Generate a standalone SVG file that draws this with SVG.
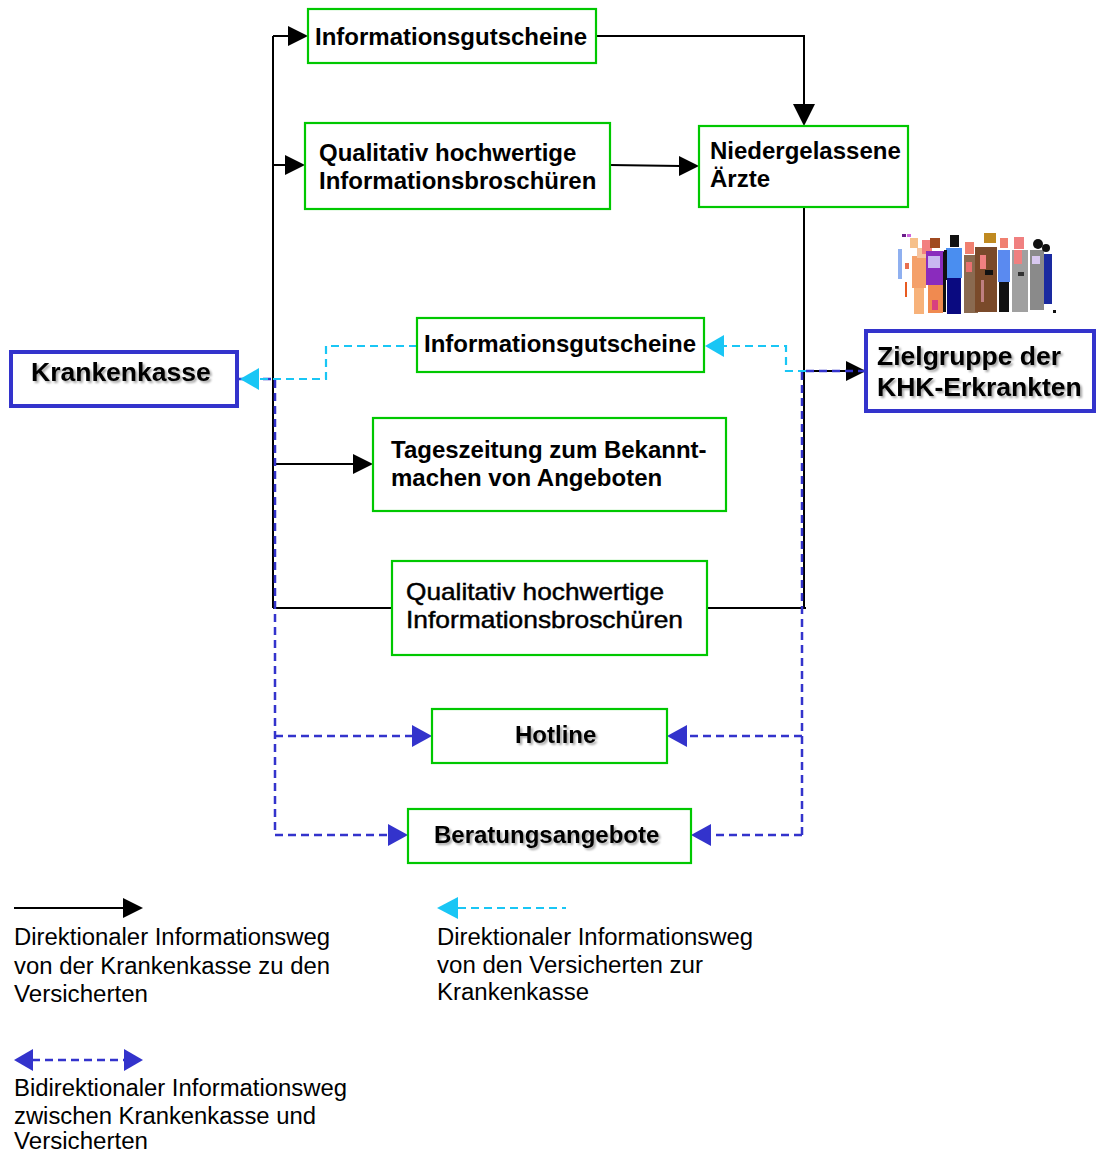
<svg xmlns="http://www.w3.org/2000/svg" width="1096" height="1155" viewBox="0 0 1096 1155">
  <style>
    .box { fill: #ffffff; stroke: #00c800; stroke-width: 2.2; }
    .main { fill: #ffffff; stroke: #3333cc; stroke-width: 4; }
    .t { font-family: "Liberation Sans", Arial, sans-serif; font-size: 24px; font-weight: bold; fill: #000; }
    .tl { font-family: "Liberation Sans", Arial, sans-serif; font-size: 24px; fill: #000; stroke: #000; stroke-width: 0.45; }
    .big { font-family: "Liberation Sans", Arial, sans-serif; font-size: 26.5px; font-weight: bold; fill: #000; }
    .leg { font-family: "Liberation Sans", Arial, sans-serif; font-size: 23px; fill: #000; }
    .solid { fill: none; stroke: #000; stroke-width: 2; }
    .blue { fill: none; stroke: #3333cc; stroke-width: 2.5; stroke-dasharray: 8 5; }
    .cyan { fill: none; stroke: #19c6f5; stroke-width: 2.2; stroke-dasharray: 8 5; }
    .hb { fill: #000; }
    .hbl { fill: #3333cc; }
    .hc { fill: #19c6f5; }
  </style>
  <defs>
    <filter id="shadow" x="-10%" y="-30%" width="130%" height="170%">
      <feGaussianBlur in="SourceAlpha" stdDeviation="1"/>
      <feOffset dx="1.5" dy="1.5" result="b"/>
      <feComponentTransfer><feFuncA type="linear" slope="0.35"/></feComponentTransfer>
      <feMerge><feMergeNode/><feMergeNode in="SourceGraphic"/></feMerge>
    </filter>
  </defs>

  <rect width="1096" height="1155" fill="#ffffff"/>

  <!-- connectors -->
  <g id="connectors">
    <!-- solid paths from the Krankenkasse -->
    <path class="solid" d="M273,36 V608 M273,36 H290 M273,165 H287 M273,464 H355 M273,608 H392 M707,608 H806"/>
    <path class="solid" d="M596,36 H804 V107 M610,165 L681,166 M804,207 V608 M806,371 H848"/>
    <polygon class="hb" points="308,36 288,26 288,46"/>
    <polygon class="hb" points="305,165 285,155 285,175"/>
    <polygon class="hb" points="373,464 353,454 353,474"/>
    <polygon class="hb" points="804,126 793,104 815,104"/>
    <polygon class="hb" points="699,166 679,156 679,176"/>
    <polygon class="hb" points="866,371 846,361 846,381"/>

    <!-- bidirectional dashed paths -->
    <path class="blue" d="M237,379 H275 V835 M275,736 H414 M275,835 H390"/>
    <path class="blue" d="M866,371 H802 V835 M802,736 H685 M802,835 H709"/>
    <polygon class="hbl" points="432,736 412,725 412,747"/>
    <polygon class="hbl" points="408,835 388,824 388,846"/>
    <polygon class="hbl" points="667,736 687,725 687,747"/>
    <polygon class="hbl" points="691,835 711,824 711,846"/>

    <!-- dashed return paths to the Krankenkasse -->
    <path class="cyan" d="M417,346 H326 V379 H258"/>
    <path class="cyan" d="M806,371 H786 V346 H723"/>
    <polygon class="hc" points="240,379 259,368 259,390"/>
    <polygon class="hc" points="705,346 724,335 724,357"/>
  </g>

  <!-- nodes -->
  <g id="krankenkasse">
    <rect class="main" x="11" y="352" width="226" height="54"/>
    <text class="big" x="31" y="381" filter="url(#shadow)">Krankenkasse</text>
  </g>

  <g id="gutscheine-oben">
    <rect class="box" x="308" y="9" width="288" height="54"/>
    <text class="t" x="315" y="45">Informationsgutscheine</text>
  </g>

  <g id="broschueren-oben">
    <rect class="box" x="305" y="123" width="305" height="86"/>
    <text class="t" x="319" y="161">Qualitativ hochwertige</text>
    <text class="t" x="319" y="189">Informationsbroschüren</text>
  </g>

  <g id="aerzte">
    <rect class="box" x="699" y="126" width="209" height="81"/>
    <text class="t" x="710" y="159">Niedergelassene</text>
    <text class="t" x="710" y="187">Ärzte</text>
  </g>

  <g id="gutscheine-mitte">
    <rect class="box" x="417" y="318" width="287" height="54"/>
    <text class="t" x="424" y="352">Informationsgutscheine</text>
  </g>

  <g id="tageszeitung">
    <rect class="box" x="373" y="418" width="353" height="93"/>
    <text class="t" x="391" y="458">Tageszeitung zum Bekannt-</text>
    <text class="t" x="391" y="486">machen von Angeboten</text>
  </g>

  <g id="broschueren-unten">
    <rect class="box" x="392" y="561" width="315" height="94"/>
    <text class="tl" x="406" y="600" textLength="258" lengthAdjust="spacingAndGlyphs">Qualitativ hochwertige</text>
    <text class="tl" x="406" y="628" textLength="277" lengthAdjust="spacingAndGlyphs">Informationsbroschüren</text>
  </g>

  <g id="hotline">
    <rect class="box" x="432" y="709" width="235" height="54"/>
    <text class="t" x="515" y="743" filter="url(#shadow)">Hotline</text>
  </g>

  <g id="beratung">
    <rect class="box" x="408" y="809" width="283" height="54"/>
    <text class="t" x="434" y="843" filter="url(#shadow)">Beratungsangebote</text>
  </g>

  <g id="zielgruppe">
    <rect class="main" x="866" y="331" width="228" height="80"/>
    <text class="big" x="877" y="365" filter="url(#shadow)">Zielgruppe der</text>
    <text class="big" x="877" y="396" filter="url(#shadow)">KHK-Erkrankten</text>
  </g>

  <!-- group of people above the target group -->
  <g id="personen">
    <!-- small scattered patches -->
    <rect x="902" y="234" width="4" height="3" fill="#6b1d8a"/>
    <rect x="907" y="234" width="4" height="3" fill="#cc66dd"/>
    <rect x="898" y="249" width="4" height="30" fill="#8fb0f0"/>
    <rect x="905" y="263" width="4" height="6" fill="#e87050"/>
    <rect x="905" y="282" width="2" height="15" fill="#e85a20"/>
    <rect x="910" y="238" width="8" height="10" fill="#f6c08a"/>
    <!-- figure 1 -->
    <rect x="912" y="256" width="14" height="32" fill="#f4a06a"/>
    <rect x="914" y="288" width="10" height="26" fill="#f7b27a"/>
    <rect x="917" y="248" width="10" height="10" fill="#f5c4a0"/>
    <rect x="922" y="240" width="10" height="14" fill="#f28080"/>
    <!-- figure 2 (purple) -->
    <rect x="930" y="238" width="10" height="10" fill="#a04a20"/>
    <rect x="926" y="251" width="18" height="34" fill="#8a2bbd"/>
    <rect x="928" y="256" width="12" height="12" fill="#c9b7f0"/>
    <rect x="928" y="285" width="15" height="28" fill="#f08a50"/>
    <rect x="932" y="300" width="6" height="10" fill="#d84080"/>
    <rect x="943" y="252" width="3" height="60" fill="#111"/>
    <!-- figure 3 (blue) -->
    <rect x="950" y="235" width="9" height="12" fill="#111"/>
    <rect x="946" y="248" width="16" height="30" fill="#4a8ef0"/>
    <rect x="947" y="278" width="14" height="36" fill="#0a0a80"/>
    <rect x="944" y="250" width="3" height="30" fill="#111"/>
    <!-- figure 4 (brown) -->
    <rect x="965" y="242" width="9" height="12" fill="#f08070"/>
    <rect x="964" y="255" width="14" height="58" fill="#8a6a50"/>
    <rect x="966" y="262" width="6" height="10" fill="#e87070"/>
    <!-- figure 5 (brown coat) -->
    <rect x="984" y="233" width="12" height="10" fill="#c08a20"/>
    <rect x="975" y="247" width="22" height="65" fill="#7a4a2a"/>
    <rect x="980" y="255" width="6" height="14" fill="#f08080"/>
    <rect x="985" y="270" width="8" height="5" fill="#111"/>
    <rect x="981" y="280" width="3" height="22" fill="#c08080"/>
    <!-- figure 6 -->
    <rect x="1000" y="238" width="8" height="10" fill="#f08070"/>
    <rect x="998" y="250" width="12" height="32" fill="#5a8af0"/>
    <rect x="999" y="282" width="10" height="30" fill="#111"/>
    <!-- figure 7 (grey) -->
    <rect x="1014" y="237" width="10" height="12" fill="#f08080"/>
    <rect x="1012" y="250" width="16" height="62" fill="#a0a0a0"/>
    <rect x="1014" y="250" width="8" height="14" fill="#f08080"/>
    <rect x="1018" y="272" width="6" height="4" fill="#333"/>
    <!-- figure 8 -->
    <circle cx="1038" cy="244" r="5" fill="#111"/>
    <rect x="1030" y="250" width="14" height="60" fill="#8a8a8a"/>
    <rect x="1032" y="256" width="8" height="8" fill="#d8c8f0"/>
    <rect x="1044" y="254" width="8" height="50" fill="#1a2aa0"/>
    <circle cx="1046" cy="248" r="4" fill="#111"/>
    <rect x="1053" y="310" width="3" height="3" fill="#111"/>
  </g>

  <!-- legend -->
  <g id="legende">
    <line class="solid" x1="14" y1="908" x2="125" y2="908"/>
    <polygon class="hb" points="143,908 123,898 123,918"/>
    <text class="leg" x="14" y="945" textLength="316" lengthAdjust="spacingAndGlyphs">Direktionaler Informationsweg</text>
    <text class="leg" x="14" y="974" textLength="316" lengthAdjust="spacingAndGlyphs">von der Krankenkasse zu den</text>
    <text class="leg" x="14" y="1002" textLength="134" lengthAdjust="spacingAndGlyphs">Versicherten</text>

    <line class="cyan" x1="458" y1="908" x2="566" y2="908"/>
    <polygon class="hc" points="437,908 458,897 458,919"/>
    <text class="leg" x="437" y="945" textLength="316" lengthAdjust="spacingAndGlyphs">Direktionaler Informationsweg</text>
    <text class="leg" x="437" y="973" textLength="266" lengthAdjust="spacingAndGlyphs">von den Versicherten zur</text>
    <text class="leg" x="437" y="1000" textLength="152" lengthAdjust="spacingAndGlyphs">Krankenkasse</text>

    <line class="blue" x1="32" y1="1060" x2="125" y2="1060"/>
    <polygon class="hbl" points="14,1060 33,1049 33,1071"/>
    <polygon class="hbl" points="143,1060 124,1049 124,1071"/>
    <text class="leg" x="14" y="1096" textLength="333" lengthAdjust="spacingAndGlyphs">Bidirektionaler Informationsweg</text>
    <text class="leg" x="14" y="1124" textLength="302" lengthAdjust="spacingAndGlyphs">zwischen Krankenkasse und</text>
    <text class="leg" x="14" y="1149" textLength="134" lengthAdjust="spacingAndGlyphs">Versicherten</text>
  </g>
</svg>
